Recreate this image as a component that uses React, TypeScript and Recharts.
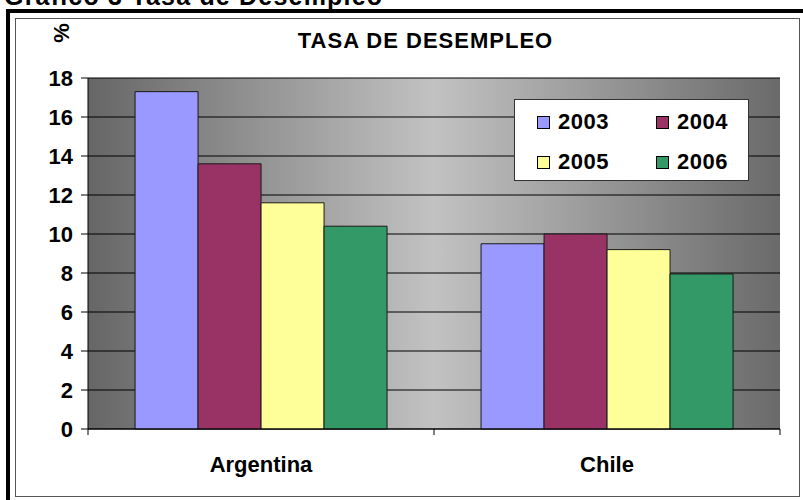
import React from "react";
import {
  BarChart,
  Bar,
  XAxis,
  YAxis,
  CartesianGrid,
} from "recharts";

const categories = ["Argentina", "Chile"];
const years = ["2003", "2004", "2005", "2006"];
const colors = ["#9999FF", "#993366", "#FFFF99", "#339966"];
const v2003 = [17.3, 9.5];
const v2004 = [13.6, 10.0];
const v2005 = [11.6, 9.2];
const v2006 = [10.4, 7.95];
const yTicks = [0, 2, 4, 6, 8, 10, 12, 14, 16, 18];

const seriesValues = [v2003, v2004, v2005, v2006];

const data = categories.map((name, i) => {
  const row: any = { name };
  years.forEach((y, j) => {
    row[y] = seriesValues[j][i];
  });
  return row;
});

const FONT = '"Liberation Sans", Arial, sans-serif';

function CategoryTick(props: any) {
  const { x, y, payload, index } = props;
  const half = payload && payload.offset ? payload.offset : 173;
  return (
    <g>
      {index === 0 && (
        <line x1={x - half} x2={x - half} y1={y} y2={y + 6} stroke="#000" />
      )}
      <line x1={x + half} x2={x + half} y1={y} y2={y + 6} stroke="#000" />
      <text
        x={x}
        y={y + 43}
        textAnchor="middle"
        fontFamily={FONT}
        fontWeight="bold"
        fontSize={22}
        fill="#000"
      >
        {payload.value}
      </text>
    </g>
  );
}

function LegendBox() {
  return (
    <div
      style={{
        position: "absolute",
        left: 514,
        top: 99,
        width: 235,
        height: 82,
        boxSizing: "border-box",
        border: "1px solid #333",
        background: "#fff",
        fontFamily: FONT,
        fontWeight: "bold",
        fontSize: 22,
      }}
    >
      {years.map((y, i) => (
        <div
          key={y}
          style={{
            position: "absolute",
            left: i % 2 === 0 ? 22 : 141,
            top: i < 2 ? 12 : 52,
            display: "flex",
            alignItems: "center",
            height: 20,
          }}
        >
          <span
            style={{
              display: "inline-block",
              width: 13,
              height: 13,
              boxSizing: "border-box",
              border: "1px solid #000",
              background: colors[i],
              marginRight: 8,
            }}
          />
          <span style={{ lineHeight: "20px", letterSpacing: 0.5 }}>{y}</span>
        </div>
      ))}
    </div>
  );
}

export default function App() {
  return (
    <div
      style={{
        position: "absolute",
        left: 0,
        top: 0,
        width: 803,
        height: 500,
        overflow: "hidden",
        background: "#fff",
        fontFamily: FONT,
      }}
    >
      <div
        style={{
          position: "absolute",
          left: 4,
          top: -18,
          fontSize: 25,
          fontWeight: "bold",
          letterSpacing: 1.2,
          lineHeight: "28px",
          whiteSpace: "nowrap",
        }}
      >
        Gráfico 3 Tasa de Desempleo
      </div>
      <div
        style={{
          position: "absolute",
          left: 6,
          top: 9,
          width: 797,
          height: 4,
          background: "#000",
        }}
      />
      <div
        style={{
          position: "absolute",
          left: 6,
          top: 9,
          width: 4,
          height: 491,
          background: "#000",
        }}
      />
      <div
        style={{
          position: "absolute",
          left: 15,
          top: 18,
          width: 785,
          height: 479,
          boxSizing: "border-box",
          border: "1.5px solid #555",
          background: "#fff",
        }}
      />
      <div style={{ position: "absolute", left: 0, top: 0 }}>
        <BarChart
          width={803}
          height={500}
          data={data}
          margin={{ top: 78, right: 23, bottom: 0, left: 0 }}
          barCategoryGap="13.6%"
          barGap={0}
        >
          <defs>
            <linearGradient id="plotBg" x1="0" y1="0" x2="1" y2="0">
              <stop offset="0" stopColor="#666666" />
              <stop offset="0.5" stopColor="#c2c2c2" />
              <stop offset="1" stopColor="#6a6a6a" />
            </linearGradient>
          </defs>
          <CartesianGrid
            vertical={false}
            stroke="#000"
            fill="url(#plotBg)"
            fillOpacity={1}
          />
          <XAxis
            dataKey="name"
            axisLine={{ stroke: "#000" }}
            tickLine={false}
            tickSize={0}
            tickMargin={0}
            tick={<CategoryTick />}
            height={71}
            interval={0}
          />
          <YAxis
            width={88}
            domain={[0, 18]}
            ticks={yTicks}
            interval={0}
            axisLine={{ stroke: "#000" }}
            tickLine={{ stroke: "#000" }}
            tickSize={7}
            tickMargin={8}
            tick={{
              fill: "#000",
              fontFamily: FONT,
              fontWeight: "bold",
              fontSize: 22,
            }}
          />
          {years.map((y, i) => (
            <Bar
              key={y}
              dataKey={y}
              fill={colors[i]}
              stroke="#1a1a1a"
              strokeWidth={1}
              isAnimationActive={false}
            />
          ))}
        </BarChart>
      </div>
      <div
        style={{
          position: "absolute",
          left: 0,
          width: 851,
          top: 29,
          textAlign: "center",
          fontSize: 22,
          fontWeight: "bold",
          letterSpacing: 1,
          lineHeight: "24px",
          whiteSpace: "nowrap",
        }}
      >
        TASA DE DESEMPLEO
      </div>
      <div
        style={{
          position: "absolute",
          left: 50,
          top: 21,
          width: 24,
          height: 24,
          fontSize: 22,
          fontWeight: "bold",
          lineHeight: "24px",
          textAlign: "center",
          transform: "rotate(-90deg)",
        }}
      >
        %
      </div>
      <LegendBox />
    </div>
  );
}
